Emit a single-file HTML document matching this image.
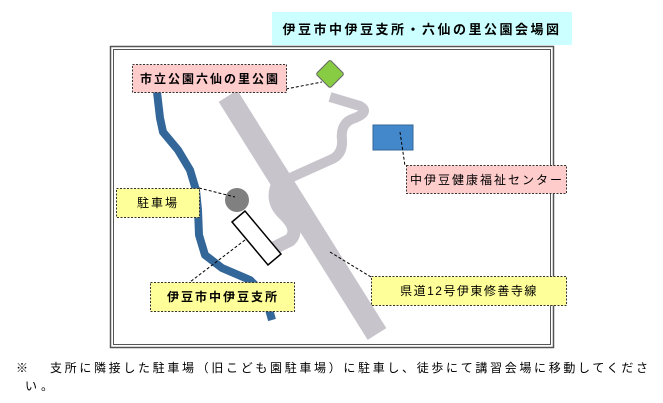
<!DOCTYPE html>
<html><head><meta charset="utf-8"><style>
body{margin:0;background:#fff;width:663px;height:403px;overflow:hidden}
svg{display:block}
text{font-family:"Liberation Sans","Noto Sans CJK JP",sans-serif}
</style></head><body>
<svg width="663" height="403" viewBox="0 0 663 403" xmlns="http://www.w3.org/2000/svg">
<rect x="272" y="12" width="300" height="33" fill="#ccffff"/>
<text x="422" y="34" font-size="13" font-weight="bold" text-anchor="middle" letter-spacing="2.5">伊豆市中伊豆支所・六仙の里公園会場図</text>
<rect x="110.5" y="46.5" width="443" height="301" fill="none" stroke="#555" stroke-width="1.5"/>
<rect x="113.5" y="49.5" width="437" height="295" fill="none" stroke="#555" stroke-width="1"/>
<path d="M157,92 L160,118 L163,132 L178,150 L190,170 L196,190 L198,210 L199,235 L205,255 L222,268 L250,280 L265,295 L272,320" fill="none" stroke="#336699" stroke-width="8" stroke-linejoin="round"/>
<path d="M228,96 L377,334" fill="none" stroke="#c8c4cc" stroke-width="22"/>
<path d="M280,180 Q268,200 285,215 Q300,230 290,240 L270,250" fill="none" stroke="#c8c4cc" stroke-width="13" stroke-linejoin="round"/>
<path d="M330,97 L360,106 Q370,112 355,118 Q340,122 342,140 Q343,155 330,160 L290,178" fill="none" stroke="#c8c4cc" stroke-width="10" stroke-linejoin="round"/>
<rect x="320" y="64" width="20" height="20" rx="2" fill="#88cc44" stroke="#666" stroke-width="1" transform="rotate(45 330 74)"/>
<rect x="373" y="125" width="40" height="25" fill="#4488cc" stroke="#336699"/>
<circle cx="237" cy="200" r="12" fill="#808080"/>
<polygon points="232,222 245,211 281,254 268,265" fill="#fff" stroke="#000" stroke-width="1.5"/>
<g stroke="#000" stroke-width="1" stroke-dasharray="3,2" fill="none">
<line x1="286" y1="89" x2="322" y2="82"/>
<line x1="400" y1="132" x2="405" y2="166"/>
<line x1="199" y1="188" x2="235" y2="197"/>
<line x1="245" y1="240" x2="190" y2="282"/>
<line x1="330" y1="252" x2="371" y2="277"/>
</g>
<g stroke="#333" stroke-width="1" stroke-dasharray="2,1.5">
<rect x="132.5" y="64.5" width="154" height="28" fill="#ffcccc"/>
<rect x="406.5" y="165.5" width="160" height="28" fill="#ffcccc"/>
<rect x="116.5" y="188.5" width="83" height="29" fill="#ffff99"/>
<rect x="150.5" y="282.5" width="144" height="29" fill="#ffff99"/>
<rect x="371.5" y="276.5" width="195" height="29" fill="#ffff99"/>
</g>
<g font-size="12" font-weight="bold" text-anchor="middle" letter-spacing="2">
<text x="210" y="83">市立公園六仙の里公園</text>
<text x="487" y="184" font-weight="normal">中伊豆健康福祉センター</text>
<text x="158" y="207" font-weight="normal">駐車場</text>
<text x="223" y="301">伊豆市中伊豆支所</text>
<text x="469" y="295" font-weight="normal" letter-spacing="1.5">県道12号伊東修善寺線</text>
</g>
<g font-size="12">
<text x="16" y="372">※</text>
<text x="50" y="372" textLength="598" lengthAdjust="spacing">支所に隣接した駐車場（旧こども園駐車場）に駐車し、徒歩にて講習会場に移動してくださ</text>
<text x="25" y="390" textLength="28" lengthAdjust="spacing">い。</text>
</g>
</svg>
</body></html>
